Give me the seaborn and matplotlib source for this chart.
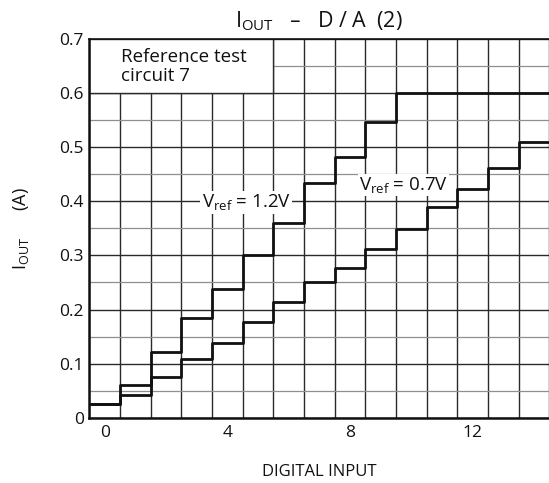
import numpy as np
import pandas as pd
import matplotlib
matplotlib.use("Agg")
import matplotlib.pyplot as plt
import seaborn as sns
from matplotlib.patches import Rectangle
from matplotlib.ticker import FixedLocator, FixedFormatter

# ---- data ----
digital_input = [0, 1, 2, 3, 4, 5, 6, 7, 8, 9, 10, 11, 12, 13, 14]
iout_vref_12 = [0.025, 0.060, 0.121, 0.185, 0.238, 0.300, 0.360, 0.433,
                0.482, 0.547, 0.600, 0.600, 0.600, 0.600, 0.600]
iout_vref_07 = [0.025, 0.042, 0.075, 0.108, 0.138, 0.176, 0.214, 0.250,
                0.277, 0.311, 0.348, 0.390, 0.422, 0.461, 0.510]
series_names = ["Vref = 1.2V", "Vref = 0.7V"]
y_tick_values = [0, 0.1, 0.2, 0.3, 0.4, 0.5, 0.6, 0.7]
y_tick_labels = ["0", "0.1", "0.2", "0.3", "0.4", "0.5", "0.6", "0.7"]
x_tick_values = [0, 4, 8, 12]
x_tick_labels = ["0", "4", "8", "12"]

sns.set_theme(style="white")
plt.rcParams["font.family"] = ["Open Sans", "DejaVu Sans"]
plt.rcParams["mathtext.default"] = "regular"

# step edges: each code occupies [k-0.5, k+0.5]
x_arr = np.array(digital_input, dtype=float)
edges = np.append(x_arr - 0.5, x_arr[-1] + 0.5)
rows = []
for name, vals in zip(series_names, [iout_vref_12, iout_vref_07]):
    v = np.append(np.array(vals), vals[-1])
    for xe, ye in zip(edges, v):
        rows.append({"code": xe, "iout": ye, "vref": name})
df = pd.DataFrame(rows)

fig = plt.figure(figsize=(5.49, 4.83), dpi=100)
ax = fig.add_axes([89.3 / 549, 1 - 417.7 / 483, 460 / 549, 378.7 / 483])

sns.lineplot(data=df, x="code", y="iout", hue="vref", palette=["#111111", "#111111"],
             drawstyle="steps-post", linewidth=2.0, legend=False, ax=ax,
             estimator=None, sort=False, zorder=3)

ax.set_xlim(-0.5, 14.5)
ax.set_ylim(0, 0.7)

# grid
ax.xaxis.set_major_locator(FixedLocator(x_tick_values))
ax.xaxis.set_major_formatter(FixedFormatter(x_tick_labels))
ax.xaxis.set_minor_locator(FixedLocator(list(edges)))
ax.yaxis.set_major_locator(FixedLocator(y_tick_values))
ax.yaxis.set_major_formatter(FixedFormatter(y_tick_labels))
ax.yaxis.set_minor_locator(FixedLocator([0.05, 0.15, 0.25, 0.35, 0.45, 0.55, 0.65]))
ax.set_axisbelow(True)
ax.grid(False)
ax.grid(which="minor", axis="x", color="#2a2a2a", linewidth=1.0)
ax.grid(which="major", axis="y", color="#2a2a2a", linewidth=1.0)
ax.grid(which="minor", axis="y", color="#8f8f8f", linewidth=0.9)
ax.tick_params(which="both", length=0)
ax.tick_params(axis="x", pad=5, labelsize=12.5, colors="#111111")
ax.tick_params(axis="y", pad=4, labelsize=12.5, colors="#111111")

for s in ["left", "bottom"]:
    ax.spines[s].set_linewidth(1.8)
    ax.spines[s].set_color("#111111")
ax.spines["top"].set_linewidth(1.2)
ax.spines["top"].set_color("#111111")
ax.spines["right"].set_visible(False)

# white note box in the upper left
ax.add_patch(Rectangle((-0.5, 0.6), 6.0, 0.1, facecolor="white", edgecolor="#2a2a2a",
                       linewidth=1.0, zorder=1))
ax.text(0.55, 0.684, "Reference test\ncircuit 7", fontsize=13.5, va="top", ha="left",
        linespacing=1.12, color="#111111", zorder=4)

# series labels
bbox = dict(facecolor="white", edgecolor="none", pad=1.0)
ax.text(4.62, 0.398, r"$V_{ref}$ = 1.2V", fontsize=13.5, ha="center", va="center",
        bbox=bbox, zorder=4, color="#111111")
ax.text(9.75, 0.43, r"$V_{ref}$ = 0.7V", fontsize=13.5, ha="center", va="center",
        bbox=bbox, zorder=4, color="#111111")

ax.set_xlabel("DIGITAL INPUT", fontsize=12, labelpad=17, color="#111111")
ax.set_ylabel(r"$I_{OUT}$      (A)", fontsize=13, labelpad=20, color="#111111")
ax.set_title(r"$I_{OUT}$   –   D / A  (2)", fontsize=15.5, pad=8, color="#111111")

fig.savefig("out.png", dpi=100)
